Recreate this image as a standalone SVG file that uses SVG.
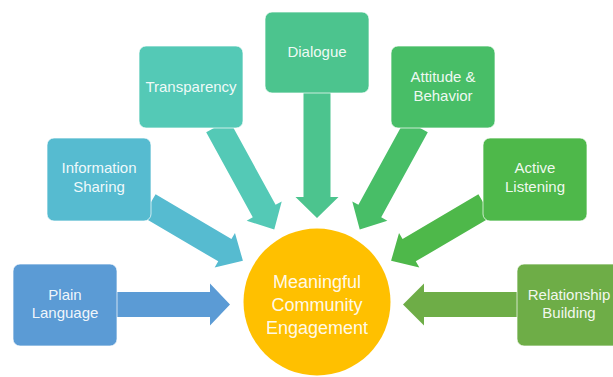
<svg xmlns="http://www.w3.org/2000/svg" width="613" height="377" viewBox="0 0 613 377">
  <style>
    .box { stroke: #ffffff; stroke-width: 1; stroke-opacity: 0.7; }
    .lbl { font-family: "Liberation Sans", Arial, sans-serif; font-size: 15px; fill: #ffffff; fill-opacity: 0.93; text-anchor: middle; }
    .big { font-family: "Liberation Sans", Arial, sans-serif; font-size: 18px; fill: #ffffff; fill-opacity: 0.93; text-anchor: middle; }
  </style>
  <rect width="613" height="377" fill="#ffffff"/>
  <g id="connectors">
    <polygon fill="#5B9BD5" transform="translate(115,304.5)" points="0,-12.5 95,-12.5 95,-21 115,0 95,21 95,12.5 0,12.5"/>
    <polygon fill="#6EAD47" transform="translate(519,304.5) rotate(180)" points="0,-12.5 95,-12.5 95,-21 116,0 95,21 95,12.5 0,12.5"/>
    <polygon fill="#4CC48E" transform="translate(317,91) rotate(90)" points="0,-13.5 106,-13.5 106,-21.5 127,0 106,21.5 106,13.5 0,13.5"/>
    <polygon fill="#54C9B6" transform="translate(217.6,126) rotate(61.3)" points="0,-13 97,-13 97,-20 118,0 97,20 97,13 0,13"/>
    <polygon fill="#48BE67" transform="translate(416.4,126) rotate(118.7)" points="0,-13 97,-13 97,-20 118,0 97,20 97,13 0,13"/>
    <polygon fill="#56BBD0" transform="translate(149,205.5) rotate(30.5)" points="0,-13 88,-13 88,-20 109,0 88,20 88,13 0,13"/>
    <polygon fill="#4EB84A" transform="translate(485,205.5) rotate(149.5)" points="0,-13 88,-13 88,-20 109,0 88,20 88,13 0,13"/>
  </g>
  <g id="plain-language">
    <rect class="box" x="13" y="264" width="104" height="82" rx="7" fill="#5B9BD5"/>
    <text class="lbl" x="65" y="300">Plain</text>
    <text class="lbl" x="65" y="318">Language</text>
  </g>
  <g id="information-sharing">
    <rect class="box" x="47" y="138" width="104" height="83" rx="7" fill="#56BBD0"/>
    <text class="lbl" x="99" y="173">Information</text>
    <text class="lbl" x="99" y="191.5">Sharing</text>
  </g>
  <g id="transparency">
    <rect class="box" x="139" y="46" width="104" height="82" rx="7" fill="#54C9B6"/>
    <text class="lbl" x="191" y="91.5">Transparency</text>
  </g>
  <g id="dialogue">
    <rect class="box" x="265" y="12" width="104" height="81" rx="7" fill="#4CC48E"/>
    <text class="lbl" x="317" y="57">Dialogue</text>
  </g>
  <g id="attitude-behavior">
    <rect class="box" x="391" y="46" width="104" height="82" rx="7" fill="#48BE67"/>
    <text class="lbl" x="443" y="82">Attitude &amp;</text>
    <text class="lbl" x="443" y="100.5">Behavior</text>
  </g>
  <g id="active-listening">
    <rect class="box" x="483" y="138" width="104" height="83" rx="7" fill="#4EB84A"/>
    <text class="lbl" x="535" y="173">Active</text>
    <text class="lbl" x="535" y="191.5">Listening</text>
  </g>
  <g id="relationship-building">
    <rect class="box" x="517" y="264" width="104" height="82" rx="7" fill="#6EAD47"/>
    <text class="lbl" x="569" y="300">Relationship</text>
    <text class="lbl" x="569" y="318">Building</text>
  </g>
  <g id="meaningful-community-engagement">
    <circle cx="317" cy="302" r="73.5" fill="#FFC000"/>
    <text class="big" x="317" y="288">Meaningful</text>
    <text class="big" x="317" y="311">Community</text>
    <text class="big" x="317" y="334">Engagement</text>
  </g>
</svg>
